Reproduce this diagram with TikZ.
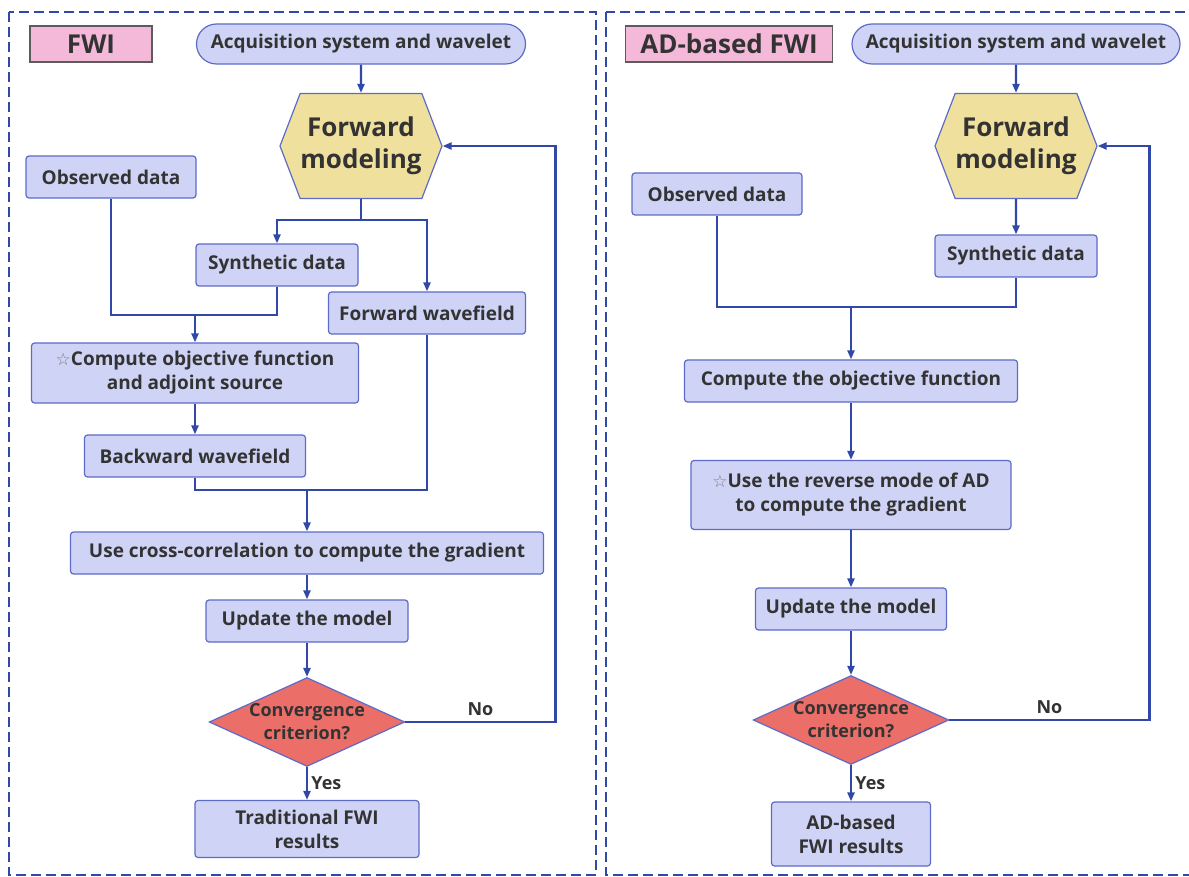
\documentclass[tikz,border=0pt]{standalone}
\usepackage{fontspec}
\setmainfont{Open Sans}
\newfontfamily\symfont{DejaVu Sans}
\usetikzlibrary{arrows.meta, positioning, shapes.geometric, shapes.symbols}

\definecolor{boxfill}{HTML}{CFD4F6}
\definecolor{boxline}{HTML}{5C6BC8}
\definecolor{arrowblue}{HTML}{3048A8}
\definecolor{hexfill}{HTML}{EFE09E}
\definecolor{decfill}{HTML}{EB6E69}
\definecolor{tagfill}{HTML}{F4B9D9}
\definecolor{textdark}{HTML}{333333}

\newcommand{\hollowstar}{{\symfont\mdseries\color{gray}\fontsize{17}{17}\selectfont ☆}}

\tikzset{
  stepbox/.style={draw=boxline, fill=boxfill, rounded corners=3pt, line width=1.2pt,
    minimum height=42pt, inner xsep=6pt, align=center, text=textdark,
    font=\fontsize{19}{24}\selectfont\bfseries},
  startbox/.style={stepbox, rounded corners=20pt, minimum height=40pt},
  hexbox/.style={shape=signal, signal to=west and east, signal pointer angle=138,
    draw=boxline, fill=hexfill, line width=1.2pt, minimum height=105pt, minimum width=162pt,
    inner sep=0pt, align=center, text=textdark, font=\fontsize{26}{32}\selectfont\bfseries},
  decbox/.style={diamond, aspect=2.2, draw=boxline, fill=decfill, line width=1.2pt,
    inner sep=0pt, align=center, text=textdark, font=\fontsize{18}{23}\selectfont\bfseries},
  titlebox/.style={draw=textdark!80, fill=tagfill, line width=1.2pt, minimum height=36pt,
    text=textdark, font=\fontsize{26}{30}\selectfont\bfseries},
  frame/.style={draw=arrowblue, line width=2.2pt, dash pattern=on 10pt off 5pt},
  line/.style={draw=arrowblue, line width=2.2pt},
  arr/.style={line, -{Triangle[length=9pt,width=7pt]}},
  lbl/.style={text=textdark, font=\fontsize{18}{20}\selectfont\bfseries}
}

\begin{document}
\begin{tikzpicture}[x=1pt, y=1pt, node distance=100pt]
\useasboundingbox (0,0) rectangle (1189,-877);
\draw[frame] (9,-12) rectangle (596,-875);
\draw[frame] (606,-12) rectangle (1210,-875);

% FWI
\node (titL) [titlebox, minimum width=122pt] at (91,-44) {FWI};
\node (acqL) [startbox, minimum width=329pt] at (361,-44) {Acquisition system and wavelet};
\node (fwdL) [hexbox, below of=acqL, node distance=102pt] {Forward\\modeling};
\node (obsL) [stepbox, minimum width=170pt] at (111,-177) {Observed data};
\node (synL) [stepbox, minimum width=162pt] at (277,-265) {Synthetic data};
\node (fwfL) [stepbox, minimum width=197pt] at (427,-313) {Forward wavefield};
\node (objL) [stepbox, minimum width=327pt, minimum height=60pt] at (195,-373) {\hollowstar Compute objective function\\and adjoint source};
\node (bwfL) [stepbox, minimum width=221pt, below of=objL, node distance=83pt] {Backward wavefield};
\node (ccL) [stepbox, minimum width=473pt] at (307,-553) {Use cross-correlation to compute the gradient};
\node (updL) [stepbox, minimum width=202pt, below of=ccL, node distance=68pt] {Update the model};
\node (convL) [decbox, below of=updL, node distance=101pt] {Convergence\\criterion?};
\node (resL) [stepbox, minimum width=224pt, minimum height=57pt, below of=convL, node distance=107pt] {Traditional FWI\\results};
\coordinate (mrgL) at (195,-315);
\coordinate (jnL) at (307,-490);

\draw[arr] (acqL) -- (fwdL);
\draw[arr] (fwdL.south) -- ++(0,-21) -| (synL.north);
\draw[arr] (fwdL.south) -- ++(0,-21) -| (fwfL.north);
\draw[line] (obsL.south) -- (obsL.south |- mrgL) -- (synL.south |- mrgL) -- (synL.south);
\draw[arr] (mrgL) -- (objL);
\draw[arr] (objL) -- (bwfL);
\draw[line] (bwfL.south) -- (bwfL.south |- jnL) -- (fwfL.south |- jnL) -- (fwfL.south);
\draw[arr] (jnL) -- (ccL);
\draw[arr] (ccL) -- (updL);
\draw[arr] (updL) -- (convL);
\draw[arr] (convL.east) -- node[lbl, above=2pt] {No} ++(150,0) |- (fwdL.east);
\draw[arr] (convL) -- node[lbl, right] {Yes} (resL);

% AD-based FWI
\node (titR) [titlebox, minimum width=207pt] at (729,-44) {AD-based FWI};
\node (acqR) [startbox, minimum width=328pt] at (1016,-44) {Acquisition system and wavelet};
\node (fwdR) [hexbox, below of=acqR, node distance=102pt] {Forward\\modeling};
\node (obsR) [stepbox, minimum width=170pt] at (717,-194) {Observed data};
\node (synR) [stepbox, minimum width=162pt, below of=fwdR, node distance=110pt] {Synthetic data};
\node (objR) [stepbox, minimum width=333pt] at (851,-381) {Compute the objective function};
\node (revR) [stepbox, minimum width=320pt, minimum height=69pt, below of=objR, node distance=114pt] {\hollowstar Use the reverse mode of AD\\to compute the gradient};
\node (updR) [stepbox, minimum width=191pt, below of=revR, node distance=114pt] {Update the model};
\node (convR) [decbox, below of=updR, node distance=111pt] {Convergence\\criterion?};
\node (resR) [stepbox, minimum width=159pt, minimum height=64pt, below of=convR, node distance=114pt] {AD-based\\FWI results};
\coordinate (mrgR) at (851,-307);

\draw[arr] (acqR) -- (fwdR);
\draw[arr] (fwdR) -- (synR);
\draw[line] (obsR.south) -- (obsR.south |- mrgR) -- (synR.south |- mrgR) -- (synR.south);
\draw[arr] (mrgR) -- (objR);
\draw[arr] (objR) -- (revR);
\draw[arr] (revR) -- (updR);
\draw[arr] (updR) -- (convR);
\draw[arr] (convR.east) -- node[lbl, above=2pt] {No} ++(200,0) |- (fwdR.east);
\draw[arr] (convR) -- node[lbl, right] {Yes} (resR);
\end{tikzpicture}
\end{document}
